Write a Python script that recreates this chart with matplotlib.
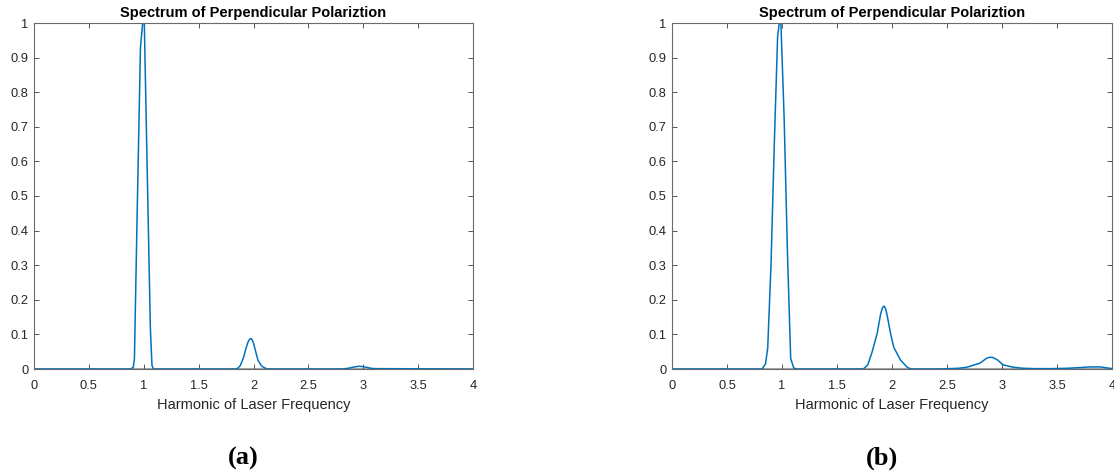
# Spectrum of perpendicular polarization, two panels (a) and (b)

import numpy as np
import matplotlib.pyplot as plt
from matplotlib.ticker import FormatStrFormatter

# Panel (a) spectrum
harm_a = [0, 0.88, 0.905, 0.915, 0.94, 0.97, 0.99, 1.005, 1.03, 1.06, 1.075, 1.09,
          1.85, 1.88, 1.91, 1.93, 1.95, 1.965, 1.975, 1.985, 2.0, 2.02, 2.04, 2.07, 2.09, 2.125,
          2.81, 2.86, 2.905, 2.94, 2.966, 2.99, 3.03, 3.07, 3.10, 4]
amp_a = [0, 0, 0.005, 0.03, 0.45, 0.93, 1.0, 1.0, 0.6, 0.12, 0.01, 0,
         0, 0.01, 0.034, 0.058, 0.078, 0.086, 0.088, 0.086, 0.075, 0.05, 0.026, 0.01, 0.005, 0,
         0, 0.002, 0.005, 0.007, 0.008, 0.007, 0.005, 0.002, 0.001, 0]

# Panel (b) spectrum
harm_b = [0, 0.82, 0.85, 0.87, 0.9, 0.93, 0.96, 0.975, 0.99, 1.02, 1.05, 1.079, 1.107, 1.13,
          1.74, 1.78, 1.82, 1.866, 1.896, 1.912, 1.926, 1.94, 1.956, 1.986, 2.016, 2.077, 2.138, 2.17,
          2.44, 2.6, 2.68, 2.80, 2.86, 2.89, 2.92, 2.96, 3.01, 3.105, 3.195, 3.3,
          3.45, 3.59, 3.7, 3.80, 3.89, 3.98, 4]
amp_b = [0, 0, 0.015, 0.06, 0.3, 0.65, 0.96, 1.0, 1.0, 0.72, 0.33, 0.03, 0.003, 0,
         0, 0.012, 0.05, 0.104, 0.158, 0.176, 0.182, 0.176, 0.155, 0.104, 0.063, 0.026, 0.005, 0,
         0, 0.002, 0.005, 0.017, 0.031, 0.034, 0.033, 0.026, 0.012, 0.005, 0.002, 0.001,
         0.001, 0.002, 0.004, 0.006, 0.006, 0.002, 0.001]

panel_labels = ['(a)', '(b)']
title_text = 'Spectrum of Perpendicular Polariztion'
xlabel_text = 'Harmonic of Laser Frequency'

plt.rcParams['font.family'] = ['Liberation Sans', 'DejaVu Sans']

fig = plt.figure(figsize=(11.14, 4.76), dpi=100)

W, H = 1114, 476
boxes = [(34, 23, 473, 369), (672, 23, 1112, 369)]
series = [(harm_a, amp_a), (harm_b, amp_b)]
label_x = [243, 882]

for (l, t, r, b), (hx, hy), lab, lx in zip(boxes, series, panel_labels, label_x):
    ax = fig.add_axes([l / W, 1 - b / H, (r - l) / W, (b - t) / H])
    ax.axhline(0, color='#a8a8a8', lw=2.2, zorder=1)
    ax.plot(hx, hy, color='#0072BD', lw=1.1, zorder=2)
    ax.set_xlim(0, 4)
    ax.set_ylim(0, 1)
    ax.set_xticks(np.arange(0, 4.01, 0.5))
    ax.set_yticks(np.arange(0, 1.01, 0.1))
    ax.xaxis.set_major_formatter(FormatStrFormatter('%g'))
    ax.yaxis.set_major_formatter(FormatStrFormatter('%g'))
    ax.tick_params(direction='in', top=True, right=True, length=3.5, width=0.7,
                   color='#555555', labelcolor='#262626', labelsize=9.3)
    ax.tick_params(axis='x', pad=8)
    ax.tick_params(axis='y', pad=4)
    for s in ax.spines.values():
        s.set_color('#6a6a6a')
        s.set_linewidth(0.8)
    ax.set_title(title_text, fontsize=10.5, fontweight='bold', color='black', pad=4)
    ax.set_xlabel(xlabel_text, fontsize=10.5, color='#262626', labelpad=4)
    fig.text(lx / W, 1 - 458 / H, lab, fontsize=19, fontweight='bold',
             family='Liberation Serif', ha='center', va='center')

fig.savefig('out.png', dpi=100)
